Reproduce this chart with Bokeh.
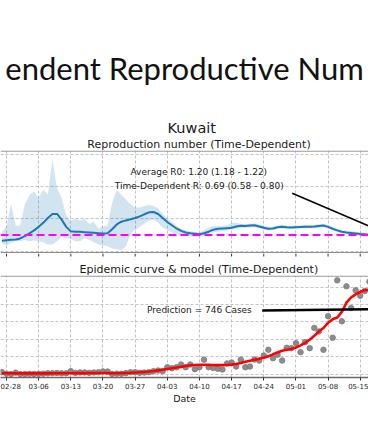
import pandas as pd
from bokeh.plotting import figure
from bokeh.models import Range1d, FixedTicker, DatetimeTickFormatter, Span, Label
from bokeh.layouts import column
from bokeh.core.properties import value
from bokeh.embed import file_html
from bokeh.resources import INLINE

# ---------------- data ----------------
slide_title = "endent Reproductive Num"
country = "Kuwait"
r_title = "Reproduction number (Time-Dependent)"
c_title = "Epidemic curve & model (Time-Dependent)"
r0_text = "Average R0: 1.20 (1.18 - 1.22)"
rt_text = "Time-Dependent R: 0.69 (0.58 - 0.80)"
pred_text = "Prediction = 746 Cases"
x_label = "Date"

first_day = "2020-02-27"

r_mean = [0.64, 0.67, 0.70, 0.72, 0.78, 0.92, 1.10, 1.28, 1.50, 1.75, 2.05,
          2.30, 2.30, 1.95, 1.50, 1.22, 1.20, 1.19, 1.17, 1.15, 1.13,
          1.11, 1.09, 1.10, 1.35, 1.65, 1.82, 1.90, 1.97, 2.05, 2.15,
          2.28, 2.40, 2.42, 2.30, 2.05, 1.80, 1.60, 1.40, 1.25, 1.15,
          1.10, 1.07, 1.04, 1.10, 1.20, 1.32, 1.38, 1.40, 1.42, 1.44,
          1.52, 1.57, 1.56, 1.58, 1.60, 1.52, 1.44, 1.38, 1.40, 1.48,
          1.50, 1.47, 1.46, 1.48, 1.49, 1.50, 1.50, 1.52, 1.55, 1.58,
          1.50, 1.38, 1.28, 1.20, 1.15, 1.12, 1.09, 1.06, 1.04, 1.00,
          0.95, 0.90, 0.85, 0.80, 0.75, 0.71, 0.69]
r_high = [1.20, 1.50, 2.95, 1.55, 1.60, 2.90, 3.50, 3.70, 3.30, 3.80, 3.50,
          5.70, 3.90, 3.30, 2.20, 1.90, 2.00, 1.90, 2.00, 1.70, 1.80,
          1.40, 1.50, 1.60, 3.00, 3.80, 3.50, 3.20, 2.90, 2.70, 2.70,
          2.80, 2.85, 2.80, 2.65, 2.30, 2.00, 1.80, 1.55, 1.38, 1.28,
          1.22, 1.18, 1.15, 1.30, 1.45, 1.55, 1.55, 1.55, 1.60, 1.75,
          1.75, 1.70, 1.68, 1.70, 1.72, 1.64, 1.56, 1.50, 1.52, 1.60,
          1.62, 1.58, 1.57, 1.59, 1.60, 1.61, 1.61, 1.63, 1.66, 1.69,
          1.61, 1.49, 1.39, 1.31, 1.26, 1.22, 1.19, 1.16, 1.14, 1.10,
          1.05, 1.00, 0.95, 0.90, 0.86, 0.82, 0.80]
r_low = [0.45, 0.35, 0.50, 0.60, 0.60, 0.70, 0.60, 0.65, 0.60, 0.55, 0.40,
         0.40, 0.60, 0.85, 0.80, 0.75, 0.60, 0.60, 0.80, 0.70, 0.55,
         0.40, 0.35, 0.30, 0.15, 0.10, 0.05, 0.30, 1.05, 1.30, 1.50,
         1.70, 1.90, 1.95, 1.75, 1.45, 1.30, 1.15, 1.05, 0.98, 0.94,
         0.92, 0.91, 0.90, 0.95, 1.05, 1.15, 1.20, 1.25, 1.27, 1.33,
         1.37, 1.44, 1.44, 1.46, 1.48, 1.40, 1.33, 1.27, 1.30, 1.38,
         1.40, 1.37, 1.36, 1.38, 1.39, 1.40, 1.40, 1.42, 1.45, 1.48,
         1.40, 1.28, 1.18, 1.10, 1.05, 1.02, 0.99, 0.97, 0.95, 0.91,
         0.86, 0.81, 0.76, 0.71, 0.65, 0.61, 0.58]
r_threshold = 1.0

daily_cases = [23, 5, 2, 18, 2, 2, 4, 2, 4, 6, 10,
               12, 14, 10, 12, 35, 15, 20, 20, 16, 20,
               22, 32, 30, 2, 6, 5, 12, 23, 23, 16,
               19, 23, 35, 42, 35, 80, 69, 80, 111, 80,
               111, 58, 80, 167, 80, 71, 62, 54, 123, 134,
               88, 167, 80, 88, 169, 157, 215, 280, 184, 223,
               157, 303, 299, 356, 253, 368, 299, 531, 491, 280,
               665, 418, 1077, 606, 1008, 759, 962, 901, 955, 1062]
model_cases = [10, 10, 10, 9, 9, 9, 9, 9, 9, 9, 9,
               10, 10, 10, 11, 11, 12, 12, 12, 13, 13,
               13, 13, 12, 11, 11, 12, 14, 16, 19, 22,
               26, 30, 36, 44, 52, 60, 68, 76, 84, 94,
               102, 106, 108, 108, 107, 105, 104, 104, 106, 110,
               118, 128, 142, 155, 166, 176, 188, 205, 228, 250,
               268, 280, 290, 305, 330, 360, 395, 440, 490, 530,
               590, 630, 650, 715, 820, 880, 915, 945, 962, 972]
prediction = 746

tick_dates = ["2020-02-21", "2020-02-28", "2020-03-06", "2020-03-13", "2020-03-20",
              "2020-03-27", "2020-04-03", "2020-04-10", "2020-04-17", "2020-04-24",
              "2020-05-01", "2020-05-08", "2020-05-15", "2020-05-22"]
r_grid = [0, 2, 4, 6]
case_grid = [0, 200, 400, 600, 800, 1000]

# ---------------- helpers ----------------
r_dates = pd.date_range(first_day, periods=len(r_mean), freq="D")
case_dates = pd.date_range(first_day, periods=len(daily_cases), freq="D")
pred_date = case_dates[-1] + pd.Timedelta(days=1)
tick_ts = pd.to_datetime(tick_dates)
origin = pd.Timestamp("2020-02-28")


def day(d):
    return origin + pd.Timedelta(days=d)


def ms(ts):
    return pd.Timestamp(ts).value / 1e6


tick_ms = [ms(t) for t in tick_dates]
x_range = Range1d(day(-1.306), day(78.80))

W = 368
FONT = "DejaVu Sans"
TXT = "#1a1a1a"
SPINE = "#9a9a9a"
GRID = "#c4c4c4"


def base(height, xr, yr, **kw):
    p = figure(width=W, height=height, x_range=xr, y_range=yr,
               x_axis_type="datetime" if xr is x_range else "linear",
               x_axis_location=kw.pop("x_axis_location", None), y_axis_location=None,
               output_backend="svg", toolbar_location=None,
               min_border_top=0, min_border_left=0, min_border_right=0,
               min_border_bottom=kw.pop("min_border_bottom", 0))
    p.outline_line_color = None
    p.background_fill_color = "white"
    p.border_fill_color = "white"
    return p


def style_grid(p, y_ticks):
    p.xgrid.ticker = FixedTicker(ticks=tick_ms)
    p.ygrid.ticker = FixedTicker(ticks=y_ticks)
    for g in (p.xgrid, p.ygrid):
        g.grid_line_color = GRID
        g.grid_line_dash = "3 2"
        g.grid_line_width = 1


# ---------------- header (slide title, country, top panel title) ----------------
h1 = base(150, Range1d(0, W), Range1d(150, 0))
h1.grid.visible = False
h1.text(x=[184], y=[67.8], text=[slide_title], text_font=value("Lato"),
        text_font_size="31px", text_align="center", text_baseline="alphabetic",
        text_color="#111111")
h1.text(x=[191.3], y=[127.4], text=[country], text_font=value(FONT),
        text_font_size="14.5px", text_align="center", text_baseline="alphabetic",
        text_color=TXT)
h1.text(x=[198.5], y=[144.3], text=[r_title], text_font=value(FONT),
        text_font_size="11px", text_align="center", text_baseline="alphabetic",
        text_color=TXT)

# ---------------- top panel: reproduction number ----------------
pA = base(103, x_range, Range1d(-0.155, 6.242))
style_grid(pA, r_grid)
pA.varea(x=r_dates, y1=r_low, y2=r_high, fill_color="#1f77b4", fill_alpha=0.2)
pA.line(r_dates, r_mean, line_color="#1f77b4", line_width=2)
pA.add_layout(Span(location=r_threshold, dimension="width", line_color="#ff00ff",
                   line_dash="8 4", line_width=2))
pA.add_layout(Span(location=6.205, dimension="width", line_color=SPINE, line_width=1.3))
pA.add_layout(Span(location=-0.124, dimension="width", line_color="#6a6a6a", line_width=1.3))
pA.segment(x0=[day(62.19)], y0=[3.59], x1=[r_dates[-1]], y1=[r_mean[-1]],
           line_color="black", line_width=1.6)
pA.add_layout(Label(x=ms(day(41.86)), y=4.90, text=r0_text, text_font=FONT,
                    text_font_size="9px", text_align="center",
                    text_baseline="middle", text_color=TXT))
pA.add_layout(Label(x=ms(day(41.95)), y=4.05, text=rt_text, text_font=FONT,
                    text_font_size="9px", text_align="center",
                    text_baseline="middle", text_color=TXT))

# ---------------- strip: top-panel ticks + bottom panel title ----------------
h2 = base(22, x_range, Range1d(22, 0))
h2.grid.visible = False
h2.segment(x0=tick_ts, y0=[0] * len(tick_ts), x1=tick_ts, y1=[3] * len(tick_ts),
           line_color="#333333", line_width=1)
h2.text(x=[day(41.88)], y=[15.9], text=[c_title], text_font=value(FONT),
        text_font_size="11px", text_align="center", text_baseline="alphabetic",
        text_color=TXT)

# ---------------- bottom panel: epidemic curve ----------------
pB = base(170, x_range, Range1d(-37.9, 1132.3), x_axis_location="below",
          min_border_bottom=68)
style_grid(pB, case_grid)
ax = pB.xaxis[0]
ax.ticker = FixedTicker(ticks=tick_ms)
ax.formatter = DatetimeTickFormatter(days="%m-%d", months="%m-%d", years="%m-%d",
                                     hours="%m-%d", hourmin="%m-%d")
ax.axis_line_color = "#6a6a6a"
ax.axis_line_width = 1.3
ax.major_tick_line_color = "#333333"
ax.major_tick_out = 3
ax.major_tick_in = 0
ax.minor_tick_out = 0
ax.minor_tick_in = 0
ax.minor_tick_line_color = None
ax.major_label_text_font_size = "7px"
ax.major_label_text_font = FONT
ax.major_label_text_color = "#262626"
ax.major_label_standoff = 2
ax.axis_label = x_label
ax.axis_label_text_font = FONT
ax.axis_label_text_font_size = "9.5px"
ax.axis_label_text_font_style = "normal"
ax.axis_label_text_color = TXT
ax.axis_label_standoff = 1

pB.add_layout(Span(location=1125.4, dimension="width", line_color=SPINE, line_width=1.3))
pB.scatter(case_dates, daily_cases, size=5.5, fill_color="#808080",
           line_color="#808080", alpha=0.9)
pB.line(case_dates, model_cases, line_color="#ff0000", line_width=2.6)
pB.segment(x0=[day(55.66)], y0=[730.8], x1=[pred_date], y1=[prediction],
           line_color="black", line_width=2.6)
pB.add_layout(Label(x=ms(day(42.0)), y=730.8, text=pred_text, text_font=FONT,
                    text_font_size="9px", text_align="center",
                    text_baseline="middle", text_color=TXT))

layout = column(h1, pA, h2, pB, spacing=0)
open("out.html", "w").write(file_html(layout, INLINE))
